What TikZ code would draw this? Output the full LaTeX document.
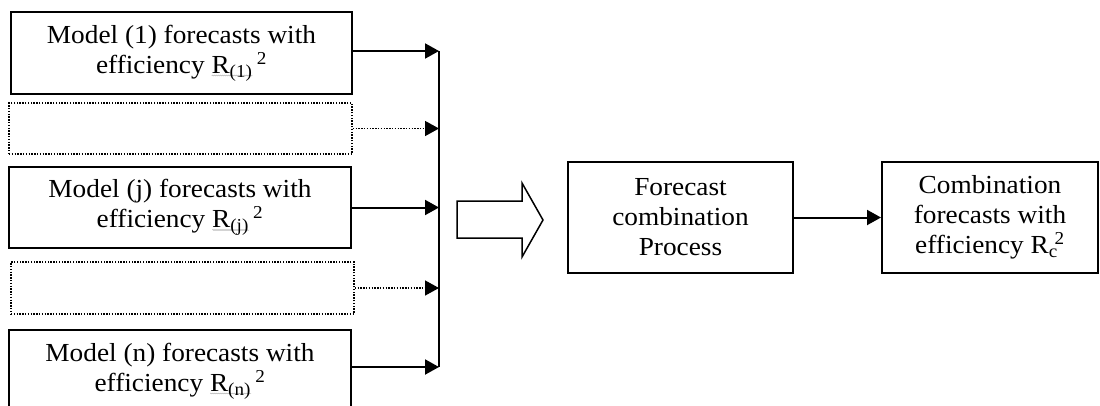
\documentclass[tikz,border=0pt]{standalone}
\usepackage{fontspec}
\setmainfont{Liberation Serif}[FakeStretch=1.05]
\usetikzlibrary{arrows.meta,decorations.pathmorphing}

% gray spell-check squiggle under a piece of text
\newlength\squigwidth
\newcommand\squig[1]{%
  \settowidth\squigwidth{#1}%
  \rlap{\raisebox{-3pt}[0pt][0pt]{\tikz\draw[gray!70,line width=0.4pt,decorate,
      decoration={snake,amplitude=0.5pt,segment length=2pt}]
      (0pt,0pt) -- (\squigwidth,0pt);}}#1}

\tikzset{
  labelfont/.style={font=\fontsize{26}{30}\selectfont},
  modelbox/.style={draw, line width=2pt, inner sep=0pt, align=center, labelfont},
  gapbox/.style={draw, line width=1.4pt, dash pattern=on 1.4pt off 1.4pt, inner sep=0pt},
  conn/.style={line width=2pt, -{Triangle[length=14pt,width=15pt]}},
  gapconn/.style={line width=1.4pt, dash pattern=on 1.4pt off 1.4pt,
                  -{Triangle[length=14pt,width=15pt]}},
}

\begin{document}
\begin{tikzpicture}[x=1pt,y=-1pt]
  \useasboundingbox (0,0) rectangle (1100,405);
  \clip (0,0) rectangle (1100,405);

  % individual model forecasts
  \node[modelbox, minimum width=341pt, minimum height=82pt] (m1) at (181.5,53)
    {Model (1) forecasts with\\ efficiency \squig{R\textsubscript{(1)}}\,\textsuperscript{2}};
  \node[gapbox, minimum width=343pt, minimum height=51pt] (g1) at (180.5,128.5) {};
  \node[modelbox, minimum width=342pt, minimum height=81pt] (mj) at (180,207.5)
    {Model (j) forecasts with\\ efficiency \squig{R\textsubscript{(j)}}\,\textsuperscript{2}};
  \node[gapbox, minimum width=343pt, minimum height=52pt] (g2) at (182.5,288) {};
  \node[modelbox, minimum width=342pt, minimum height=82pt] (mn) at (180,371)
    {Model (n) forecasts with\\ efficiency \squig{R\textsubscript{(n)}}\,\textsuperscript{2}};

  % collecting bus
  \coordinate (bustop) at (439,51);
  \coordinate (busbot) at (439,367);
  \draw[line width=2pt] (bustop) -- (busbot);

  \draw[conn]    ([yshift=2pt]m1.east) -- ([yshift=2pt]m1.east -| bustop);
  \draw[gapconn] (g1.east) -- (g1.east -| bustop);
  \draw[conn]    (mj.east) -- (mj.east -| bustop);
  \draw[gapconn] (g2.east) -- (g2.east -| bustop);
  \draw[conn]    ([yshift=4pt]mn.east) -- ([yshift=4pt]mn.east -| bustop);

  % hollow block arrow into the combination step
  \draw[line width=1.5pt, line join=miter]
    (457,201) -- (522,201) -- (522,183) -- (543,220) -- (522,257)
    -- (522,238) -- (457,238) -- cycle;

  % combination stage
  \node[modelbox, minimum width=225pt, minimum height=111pt] (fc) at (680.5,217.5)
    {Forecast\\ combination\\ Process};
  \node[modelbox, minimum width=216pt, minimum height=111pt] (cf) at (990,217.5)
    {Combination\\ forecasts with\\ efficiency R\textsubscript{c}\kern-0.12em\textsuperscript{2}};

  \draw[conn] (fc.east) -- (cf.west);
\end{tikzpicture}
\end{document}
